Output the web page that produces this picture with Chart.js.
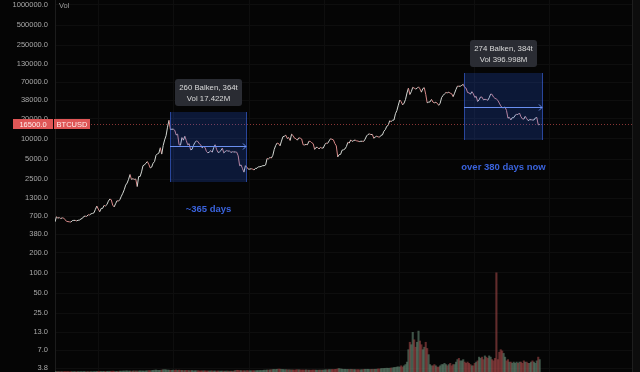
<!DOCTYPE html>
<html><head><meta charset="utf-8">
<script src="https://cdn.jsdelivr.net/npm/chart.js@4.4.1/dist/chart.umd.min.js"></script>
<style>html,body{margin:0;padding:0;background:#050505;overflow:hidden}canvas{display:block}</style>
</head><body>
<canvas id="c" width="640" height="372"></canvas>
<script>
// Weekly BTCUSD closes, first week starting 2016-06-06
const close2016 = [580,690,660,670, 650,665,660,625, 590,585,580,575,605, 610,610,600,612, 617,640,655,700,705, 700,740,735,765, 775,790,890,1000];
const close2017 = [900,820,920,920,1020, 1000,1050,1180,1270, 1240,1030,970,1080, 1200,1180,1250,1400, 1550,1750,2050,2200,2500, 2950,2500,2550,2500, 2520,1950,2750,2750,3230, 4000,4100,4350,4600, 4200,3700,3800,4350, 4600,5700,6000,6150,7400, 5950,8000,9700,11200, 15000,19000,13800,14000];
const close2018 = [14000,13500,11500,11800,8200, 8100,10500,9600,11000, 9500,8200,8500,6900, 7000,8000,8900,9300,9200, 8500,8200,7350,7700, 7500,6500,6200,6400, 6700,6350,7400,8200,7000, 6300,6400,6700,7300, 6200,6500,6700,6600, 6600,6300,6450,6400,6400, 6350,5600,4000,4100, 3600,3200,4000,3800,3550];
const close2019 = [3550,3600,3550,3450, 3650,3650,3850,3850, 3900,4000,4000,4100, 5100,5050,5300,5200,5700, 7000,8000,8700,8550, 7900,9300,10800,11000, 11400,10200,10500,9500,11800, 11300,10300,10100,9600, 10400,10300,10000,8200,8150, 8300,8200,9250,9200, 8800,8500,7000,7500, 7500,7100,7500,7300,7350];
const close2020 = [8200,8700,8600,9350, 10100,9900,9700,8550, 7900,5400,5850,5900,6800, 6900,7100,7700,8900, 8700,9700,9200,9450, 9650,9400,9300,9150,9250, 9250,9200,9950,11100, 11700,11900,11650,11700,10250, 10700,11000,10750,10650, 11350,11500,13050,13800, 15500,16000,18700,18200,19000, 19200,23800,26500,32000];
const close2021 = [38200,36000,32300,34300, 39000,48500,57500,46100, 50900,59000,57500,55800,57000, 60000,56000,50000,56600, 58200,46500,34700,35500,35800, 39000,35500,34700,35300, 34200,31800,34200,41500, 44600,47100,49300,48900,49900, 48300,47300,42800,48200, 55000,61500,61300,61300, 63300,65500,59000,57300,49400, 48800,46700,50800,47300];
const close2022 = [41900,43100,36300,38500,42400, 42200,38400,39100,38800, 37800,41300,46800,46400, 42200,40400,39500,37700, 34300,31300,29400,29400,29900, 26600,20500,21000,19300, 20800,20800,22600,23300, 23200,24400,21500,20000,19800, 21800,20100,18800,19400, 19400,19200,19200,20600,21000, 16300,16500];

// Weekly volume (M)
const vol2016 = [0.3,0.4,0.3,0.3,0.3, 0.3,0.3,0.3,0.4,0.3, 0.3,0.3,0.3,0.3,0.3, 0.3,0.3,0.3,0.3,0.3, 0.4,0.3,0.3,0.3,0.3, 0.3,0.3,0.3,0.4,0.5];
const vol2017 = [0.5,0.6,0.5,0.5,0.5, 0.5,0.5,0.6,0.6,0.6, 0.7,0.6,0.5,0.5,0.6, 0.7,0.7,0.8,0.8,0.9, 0.9,0.8,0.8,0.7,0.8, 0.9,0.8,0.8,0.8,0.9, 0.9,0.8,0.8,0.9,1.0, 1.1,1.0,1.2,1.3,1.5, 1.6,1.4,1.3,1.4,1.6, 1.8,1.9, 1.7,1.6,1.5,1.4,1.4];
const vol2018 = [1.5,1.4,1.6,1.3,1.5, 1.4,1.3,1.2,1.2,1.3, 1.2,1.1,1.1,1.2,1.0, 1.0,1.1,1.0,0.9,0.9, 0.9,1.0,0.9,0.9,0.8, 0.8,0.9,0.9,0.8,0.8, 0.8,0.8,0.8,0.7,0.8, 0.7,0.7,0.8,0.7,0.7, 0.7,0.7,0.8,1.2,1.4, 1.3,1.2,1.1,1.0,1.0, 1.0,1.1,1.0];
const vol2019 = [1.0,1.0,1.1,1.0,1.1, 1.1,1.2,1.2,1.2,1.3, 1.5,1.5,1.6,1.6,1.7, 1.9,2.0,2.1,2.0,2.2, 2.4,2.3,2.2,2.0,1.9, 1.9,1.8,1.8,1.7,1.7, 1.6,1.6,1.7,1.9,1.8, 1.7,1.6,1.6,1.6,1.7, 1.6,1.5,1.5,1.5,1.6, 1.6,1.5,1.5,1.5,1.6, 1.5,1.6];
const vol2020 = [1.7,1.8,1.8,1.9,2.0, 2.0,2.0,2.1,2.2,2.6, 2.8,2.5,2.3,2.2,2.2, 2.1,2.1,2.0,2.2,2.1, 2.0,1.9,1.9,1.9,1.8, 1.8,1.9,2.1,2.2,2.2, 2.2,2.1,2.1,2.2,2.2, 2.2,2.3,2.5,2.5,2.7, 2.9,2.8,3.0,3.1,3.0, 3.1,3.2,3.4,3.6,3.8, 4.0,4.2];
const vol2021 = [4,5,4,5, 6,8,18,24, 22,32,26,20,24, 33,25,22,18, 20,24,19,14,6, 5,5,6,5, 4,4,5,6, 6,7,6,5,6, 7,5,6,6, 8,10,11,9, 9,10,8,7,8, 7,6,5,5];
const vol2022 = [7,8,9,12,11, 12,10,13,12,11, 13,12,10,9,11, 80,10,16,18,17, 15,12,9,10,8, 8,7,8,7,8, 7,8,8,7,9, 8,8,7,7,8, 9,8,7,9,12, 10];

const close = [].concat(close2016, close2017, close2018, close2019, close2020, close2021, close2022);
const volume = [].concat(vol2016, vol2017, vol2018, vol2019, vol2020, vol2021, vol2022);

// Year boundaries (week index) and names
const yearStarts = [30, 82, 135, 187, 239, 291, 343];
const yearNames = ['2017','2018','2019','2020','2021','2022','2023'];

// Price axis tick labels
const yTicks = [3.8,7,13,25,50,100,200,380,700,1300,2500,5000,10000,20000,38000,70000,130000,250000,500000,1000000];

// Measured ranges (week index / price)
const rangeStart = [79.7, 283.3];
const rangeEnd   = [133.0, 338.1];
const rangeHigh  = [25300, 96600];
const rangeLow   = [2280, 9660];
const rangeMid   = [7870, 30000];
const rangeBars  = ['260 Balken, 364t', '274 Balken, 384t'];
const rangeVol   = ['Vol 17.422M', 'Vol 396.998M'];
const rangeNote  = ['~365 days', 'over 380 days now'];

const FONT = "'Liberation Sans', Arial, sans-serif";
const upLine = '#d4d8d4', downLine = '#d98a8a';
const upVol = 'rgba(100,135,115,0.6)', downVol = 'rgba(160,70,70,0.6)';

const deco = {
  id: 'deco',
  beforeDraw(ch) {
    const c = ch.ctx, a = ch.chartArea;
    c.save();
    c.fillStyle = '#050505';
    c.fillRect(0, 0, ch.width, ch.height);
    c.fillStyle = '#0d0d0d';
    c.fillRect(a.right + 1, 0, ch.width - a.right, ch.height);
    c.strokeStyle = '#1e1e1e';
    c.beginPath(); c.moveTo(a.right + 0.5, 0); c.lineTo(a.right + 0.5, ch.height); c.stroke();
    c.restore();
  },
  afterDatasetsDraw(ch) {
    const c = ch.ctx, xs = ch.scales.x, ys = ch.scales.y, a = ch.chartArea;
    c.save();
    const last = close[close.length - 1];
    const py = Math.round(ys.getPixelForValue(last)) + 0.5;
    c.strokeStyle = 'rgba(225,85,85,0.6)';
    c.setLineDash([1, 2]);
    c.beginPath(); c.moveTo(a.left, py); c.lineTo(a.right, py); c.stroke();
    c.setLineDash([]);
    for (let k = 0; k < rangeStart.length; k++) {
      const x0 = Math.round(xs.getPixelForValue(rangeStart[k]));
      const x1 = Math.round(xs.getPixelForValue(rangeEnd[k]));
      const y0 = Math.round(ys.getPixelForValue(rangeHigh[k]));
      const y1 = Math.round(ys.getPixelForValue(rangeLow[k]));
      const ym = Math.round(ys.getPixelForValue(rangeMid[k])) + 0.5;
      c.fillStyle = 'rgba(41,98,255,0.2)';
      c.fillRect(x0, y0, x1 - x0, y1 - y0);
      c.strokeStyle = 'rgba(70,115,255,0.5)';
      c.lineWidth = 1;
      c.beginPath(); c.moveTo(x0 + 0.5, y0); c.lineTo(x0 + 0.5, y1); c.moveTo(x1 - 0.5, y0); c.lineTo(x1 - 0.5, y1); c.stroke();
      c.strokeStyle = '#6a8ff0';
      c.beginPath(); c.moveTo(x0, ym); c.lineTo(x1 - 1, ym); c.stroke();
      c.beginPath(); c.moveTo(x1 - 4, ym - 3); c.lineTo(x1 - 1, ym); c.lineTo(x1 - 4, ym + 3); c.stroke();
      const cx = (x0 + x1) / 2;
      const w = 67, h = 27, top = y0 - 6 - h;
      c.fillStyle = '#2a2c33';
      c.beginPath(); c.roundRect(cx - w / 2, top, w, h, 3); c.fill();
      c.fillStyle = '#dadada';
      c.font = '7.8px ' + FONT;
      c.textAlign = 'center'; c.textBaseline = 'middle';
      c.fillText(rangeBars[k], cx, top + 8.5);
      c.fillText(rangeVol[k], cx, top + 20);
      c.fillStyle = '#3a63dd';
      c.font = 'bold 9.5px ' + FONT;
      c.fillText(rangeNote[k], cx, y1 + 27);
    }
    c.restore();
  },
  afterDraw(ch) {
    const c = ch.ctx, ys = ch.scales.y, a = ch.chartArea;
    c.save();
    const last = close[close.length - 1];
    const py = Math.round(ys.getPixelForValue(last));
    c.fillStyle = '#df5656';
    c.fillRect(13, py - 5, 40, 10);
    c.fillRect(54, py - 5, 36, 10);
    c.fillStyle = '#ffecec';
    c.font = '7.5px ' + FONT;
    c.textAlign = 'center'; c.textBaseline = 'middle';
    c.fillText(last.toFixed(1), 33, py + 0.5);
    c.fillText('BTCUSD', 72, py + 0.5);
    c.fillStyle = '#9c9c9c';
    c.textAlign = 'left';
    c.fillText('Vol', a.left + 4, 6);
    c.restore();
  }
};

new Chart(document.getElementById('c'), {
  type: 'bar',
  data: {
    datasets: [
      {
        type: 'line',
        label: 'BTCUSD',
        data: close.map((v, i) => ({ x: i, y: v })),
        yAxisID: 'y',
        borderWidth: 1,
        borderColor: upLine,
        pointRadius: 0,
        tension: 0,
        order: 0,
        segment: { borderColor: s => s.p1.parsed.y >= s.p0.parsed.y ? upLine : downLine }
      },
      {
        type: 'bar',
        label: 'Vol',
        data: volume.map((v, i) => ({ x: i, y: v })),
        yAxisID: 'yv',
        barPercentage: 1,
        categoryPercentage: 1,
        borderWidth: 0,
        order: 1,
        backgroundColor: s => (s.dataIndex > 0 && close[s.dataIndex] < close[s.dataIndex - 1]) ? downVol : upVol
      }
    ]
  },
  options: {
    responsive: false,
    animation: false,
    devicePixelRatio: 1,
    layout: { padding: { left: 0, right: 8, top: 0, bottom: 0 } },
    plugins: { legend: { display: false }, tooltip: { enabled: false } },
    scales: {
      x: {
        type: 'linear', min: 0, max: 400, offset: false,
        grid: { color: '#0e0e0e', drawTicks: false, offset: false },
        border: { display: false },
        ticks: { display: false, callback: (v) => { const j = yearStarts.indexOf(v); return j >= 0 ? yearNames[j] : ''; } },
        afterBuildTicks: s => { s.ticks = yearStarts.map(v => ({ value: v })); },
        afterFit: s => { s.height = 0; s.paddingLeft = 0; s.paddingRight = 0; }
      },
      y: {
        type: 'logarithmic', position: 'left', min: 3.33, max: 1187000,
        grid: { color: '#0e0e0e', drawTicks: false },
        border: { color: '#1c1c1c' },
        ticks: {
          autoSkip: false, padding: 7, color: '#a9a9a9',
          font: { family: FONT, size: 7.5 },
          callback: v => Number(v).toFixed(1)
        },
        afterBuildTicks: s => { s.ticks = yTicks.map(v => ({ value: v })); },
        afterFit: s => { s.width = 55; s.paddingTop = 0; s.paddingBottom = 0; }
      },
      yv: {
        type: 'linear', display: false, min: 0, max: 300
      }
    }
  },
  plugins: [deco]
});
</script>
</body></html>
